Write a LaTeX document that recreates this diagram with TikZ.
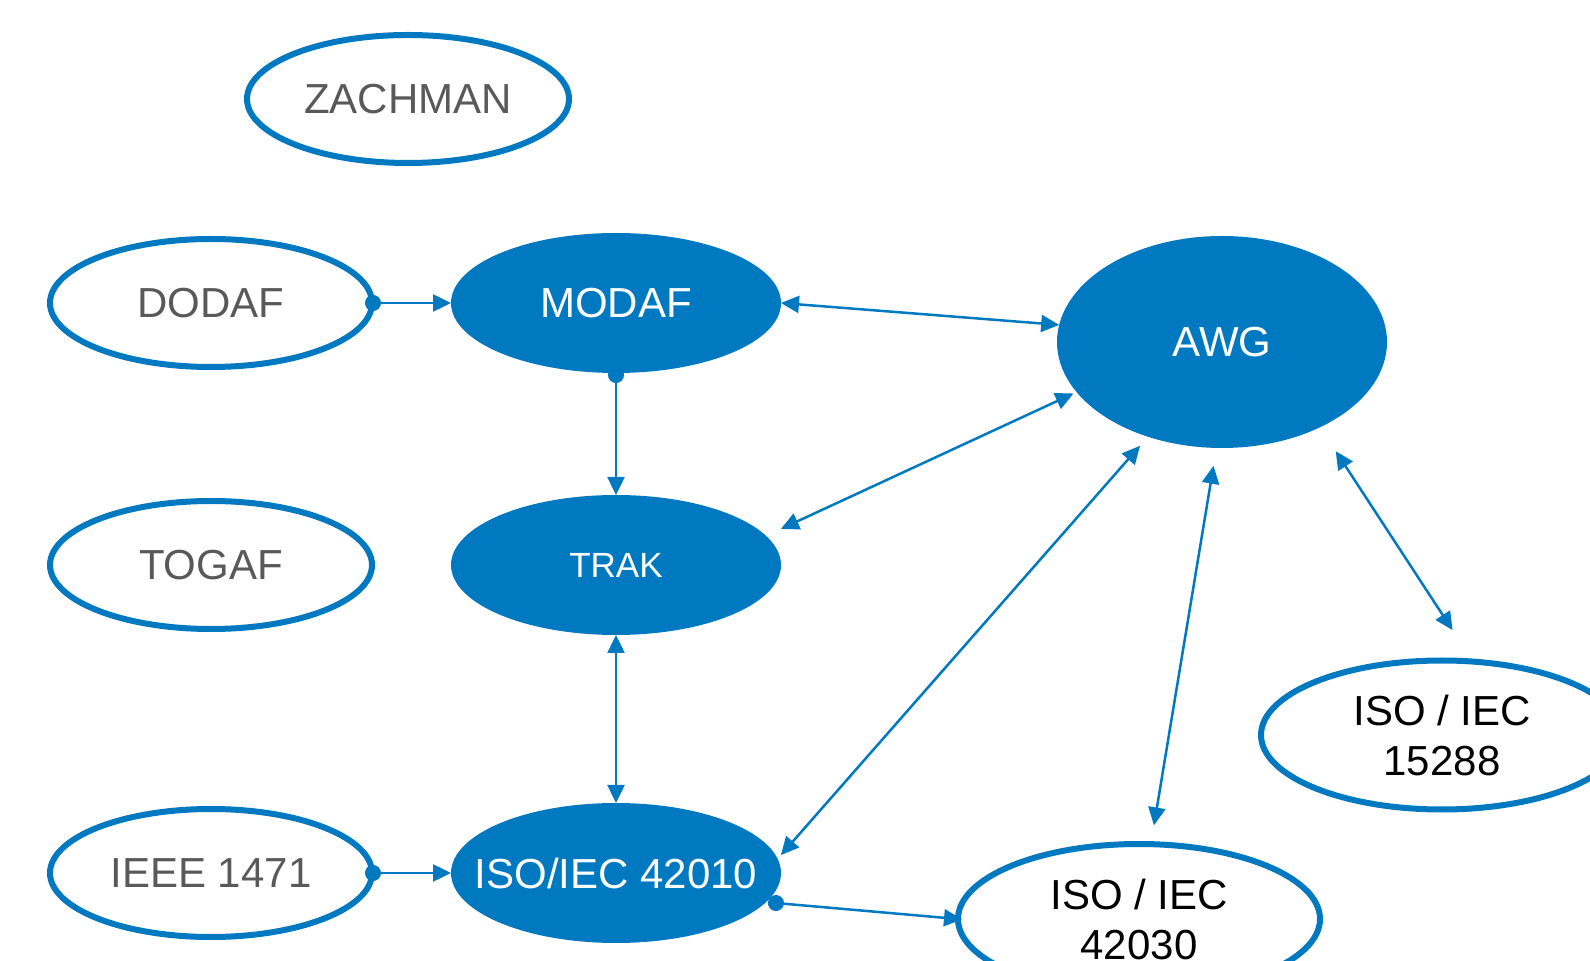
\documentclass[tikz,border=0pt]{standalone}
\usepackage{fontspec}
\setmainfont{Liberation Sans}
\usetikzlibrary{shapes.geometric,arrows.meta}
\definecolor{ablue}{RGB}{0,121,193}
\definecolor{tgray}{RGB}{89,89,89}
\begin{document}
\begin{tikzpicture}[x=0.5pt,y=-0.5pt,
  outl/.style={ellipse, draw=ablue, line width=3pt, fill=white, inner sep=0pt, outer sep=0pt,
    minimum width=161pt, minimum height=64pt},
  bigoutl/.style={outl, minimum width=181pt, minimum height=74.5pt},
  filled/.style={ellipse, fill=ablue, inner sep=0pt, outer sep=0pt,
    minimum width=165pt, minimum height=70pt},
  gtxt/.style={text=tgray, font=\fontsize{21}{25}\selectfont, inner sep=0pt},
  ktxt/.style={text=black, font=\fontsize{21}{25}\selectfont, inner sep=0pt, align=center},
  wtxt/.style={text=white, font=\fontsize{21}{25}\selectfont, inner sep=0pt},
  conn/.style={draw=ablue, line width=1.25pt},
  bi/.style={conn, {Triangle[length=9pt,width=8.5pt]}-{Triangle[length=9pt,width=8.5pt]}},
  di/.style={conn, {Circle[length=8pt]}-{Triangle[length=9pt,width=8.5pt]}}
]
\useasboundingbox (0,0) rectangle (1590,961);
\clip (0,0) rectangle (1590,961);

\node[outl, label={[gtxt]center:ZACHMAN}] (zach) at (408,99) {};
\node[outl, label={[gtxt]center:DODAF}] (dodaf) at (211,303) {};
\node[outl, label={[gtxt]center:TOGAF}] (togaf) at (211,565) {};
\node[outl, label={[gtxt]center:IEEE 1471}] (ieee) at (211,873) {};

\node[filled, label={[wtxt]center:MODAF}] (modaf) at (616,303) {};
\node[filled, label={[wtxt, font=\fontsize{17.5}{21}\selectfont]center:TRAK}] (trak) at (616,565) {};
\node[filled, label={[wtxt]center:ISO/IEC 42010}] (iso42010) at (616,873) {};
\node[filled, minimum height=106pt, label={[wtxt]center:AWG}] (awg) at (1222,342) {};

\node[bigoutl, label={[ktxt]center:{ISO / IEC\\15288}}] (iso15288) at (1442,735) {};
\node[bigoutl, minimum height=75pt, label={[ktxt]center:{ISO / IEC\\42030}}] (iso42030) at (1139,919) {};

\draw[di, shorten <=-3.5pt] (dodaf.east) -- (modaf.west);
\draw[di, shorten <=-3pt] (modaf.south) -- (trak.north);
\draw[di, shorten <=-3.5pt] (ieee.east) -- (iso42010.west);
\draw[bi] (trak.south) -- (iso42010.north);
\draw[bi] (modaf.east) -- (awg.174);
\draw[bi, shorten <=8.2pt, shorten >=1.7pt] (trak.11) -- (awg.199);
\draw[bi, shorten <=2.5pt, shorten >=6pt] (iso42010.5) -- (awg.232);
\draw[bi, shorten <=9.5pt, shorten >=9pt] (iso42030.81) -- (awg.267);
\draw[bi, shorten <=18.8pt, shorten >=14.3pt] (iso15288.67) -- (awg.319);
\draw[di, shorten <=1pt, shorten >=-2pt] (iso42010.349) -- (iso42030.west);
\end{tikzpicture}
\end{document}
